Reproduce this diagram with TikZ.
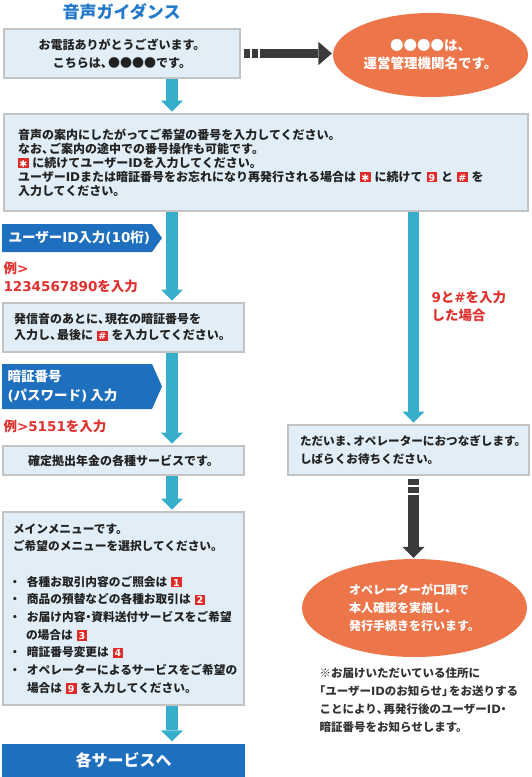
\documentclass[tikz,border=0pt]{standalone}
\usepackage{fontspec}
\setmainfont{Noto Sans CJK JP}
\newfontfamily\latfont{DejaVu Sans}
\usetikzlibrary{arrows.meta,shapes.geometric,calc}
\definecolor{bgblue}{HTML}{E1EEF8}
\definecolor{bordergray}{HTML}{C3C3C3}
\definecolor{arrowblue}{HTML}{36AECC}
\definecolor{navyblue}{HTML}{1F6FBF}
\definecolor{ornge}{HTML}{EC7549}
\definecolor{dk}{HTML}{3A3A3A}
\definecolor{redtxt}{HTML}{E0312F}
\definecolor{bred}{HTML}{E02B2B}
\definecolor{titleblue}{HTML}{2479C9}
\definecolor{txt}{HTML}{222222}
\definecolor{txtb}{HTML}{333333}
\newcommand\lat[1]{{\latfont #1}}
\newcommand\fs[2]{\fontsize{#1}{#2}\selectfont}
\newcommand\tou{\makebox[0.6em][l]{、}}
\newcommand\nak{\makebox[0.5em][c]{・}}
\newcommand\kL{\makebox[0.5em][r]{「}}
\newcommand\kR{\makebox[0.6em][l]{」}}
\newcommand\bdg[1]{{\setlength\fboxsep{0pt}\colorbox{bred}{\makebox[10.5pt]{\rule[-1.3pt]{0pt}{10.5pt}\color{white}\fs{9.5}{9.5}\lat{#1}}}}}
\begin{document}
\begin{tikzpicture}[x=1pt,y=-1pt,
  panel/.style={draw=bordergray, line width=2.4pt, fill=bgblue, inner ysep=0pt, outer sep=0pt, text=txt},
  flow/.style={draw=arrowblue, line width=11.5pt, -{Triangle[width=22pt,length=11pt,line width=0pt]}, shorten <=1.2pt, shorten >=2.5pt},
  darkarr/.style={draw=dk, dash pattern=on 6pt off 2pt on 6pt off 2.5pt on 600pt off 0pt},
  oval/.style={ellipse, fill=ornge, inner sep=0pt, text=white},
  banner/.style={fill=navyblue}
]
\useasboundingbox (0,0) rectangle (531,777);
\coordinate (ax) at (172,0);
\coordinate (bx) at (413.5,0);

\node[font=\bfseries\fs{17}{17}, text=titleblue] (title) at (121.5,12) {音声ガイダンス};

\node[panel, minimum width=235.6pt, minimum height=48.6pt, align=center, font=\bfseries\fs{12}{18}] (b1) at (122,53.5)
  {お電話ありがとうございます。\\こちらは\tou ●●●●です。};

\node[oval, minimum width=195pt, minimum height=84pt, align=center, font=\bfseries\fs{13.5}{18}] (e1) at (430.5,55)
  {●●●●は、\\運営管理機関名です。};

\node[panel, minimum width=523.6pt, minimum height=96.6pt, text width=496pt, inner xsep=13.8pt, align=left, font=\bfseries\fs{12}{14}] (b2) at (266,162.5)
  {音声の案内にしたがってご希望の番号を入力してください。\\
   なお\tou ご案内の途中での番号操作も可能です。\\
   \bdg{\mdseries ✱}~に続けてユーザー\lat{ID}を入力してください。\\
   ユーザー\lat{ID}または暗証番号をお忘れになり再発行される場合は~\bdg{\mdseries ✱}~に続けて~\bdg{9}~と~\bdg{\#}~を\\
   入力してください。};

\fill[banner] (2,224) -- (152,224) -- (162,238) -- (152,252) -- (2,252) -- cycle;
\node[anchor=west, text=white, font=\bfseries\fs{13.5}{13.5}] (t1) at (5,238) {ユーザー\lat{ID}入力\lat{(10}桁\lat{)}};

\node[anchor=west, align=left, text=redtxt, font=\bfseries\fs{13.5}{18}] (r1) at (0,277) {例\lat{>}\\\lat{1234567890}を入力};

\node[panel, minimum width=240.6pt, minimum height=48.6pt, text width=219pt, inner xsep=10.8pt, align=left, font=\bfseries\fs{12}{16}] (b3) at (123.5,327.5)
  {発信音のあとに\tou 現在の暗証番号を\\入力し\tou 最後に~\bdg{\#}~を入力してください。};

\fill[banner] (2,364) -- (152,364) -- (162,386.5) -- (152,409) -- (2,409) -- cycle;
\node[anchor=west, align=left, text=white, font=\bfseries\fs{13.5}{19}] (t2) at (4,386.5) {暗証番号\\\lat{(}パスワード\lat{)} 入力};

\node[anchor=west, text=redtxt, font=\bfseries\fs{13.5}{13.5}] (r2) at (0,426) {例\lat{>5151}を入力};

\node[panel, minimum width=240.6pt, minimum height=28.6pt, align=center, font=\bfseries\fs{12}{14}] (b4) at (123.5,460.5)
  {確定拠出年金の各種サービスです。};

\node[panel, minimum width=240.6pt, minimum height=192.6pt, text width=221pt, inner xsep=9.8pt, align=left, font=\bfseries\fs{11.7}{17.7}] (b5) at (123.5,608.5)
  {メインメニューです。\\
   ご希望のメニューを選択してください。\\
   \mbox{}\\
   \makebox[14pt][l]{\hspace{-4pt}・}各種お取引内容のご照会は~\bdg{1}\\
   \makebox[14pt][l]{\hspace{-4pt}・}商品の預替などの各種お取引は~\bdg{2}\\
   \makebox[14pt][l]{\hspace{-4pt}・}お届け内容\nak 資料送付サービスをご希望\\
   \hspace*{13pt}の場合は~\bdg{3}\\
   \makebox[14pt][l]{\hspace{-4pt}・}暗証番号変更は~\bdg{4}\\
   \makebox[14pt][l]{\hspace{-4pt}・}オペレーターによるサービスをご希望の\\
   \hspace*{14pt}場合は~\bdg{9}~を入力してください。};

\node[fill=navyblue, minimum width=243pt, minimum height=33pt, inner sep=0pt, text=white, font=\bfseries\fs{16}{16}] (b7) at (123.5,760.5) {各サービスへ};

\node[anchor=west, align=left, text=redtxt, font=\bfseries\fs{13.5}{17.5}] (r3) at (428,306.5) {\lat{9}と\lat{\#}を入力\\した場合};

\node[panel, minimum width=240.6pt, minimum height=49.6pt, text width=217pt, inner xsep=11.8pt, align=left, font=\bfseries\fs{11.6}{18}] (b6) at (408.5,450)
  {ただいま\tou オペレーターにおつなぎします。\\しばらくお待ちください。};

\node[oval, minimum width=225pt, minimum height=98pt, align=left, font=\bfseries\fs{12}{18}] (e2) at (414.5,608)
  {オペレーターが口頭で\\本人確認を実施し、\\発行手続きを行います。};

\node[anchor=west, align=left, text=txtb, font=\bfseries\fs{11.5}{18}] (fn) at (316,700)
  {※お届けいただいている住所に\\\kL ユーザー\lat{ID}のお知らせ\kR をお送りする\\ことにより\tou 再発行後のユーザー\lat{ID}\nak\\暗証番号をお知らせします。};

% blue flow arrows
\draw[flow] (b1.south -| ax) -- (b2.north -| ax);
\draw[flow] (b2.south -| ax) -- (b3.north -| ax);
\draw[flow] (b3.south -| ax) -- (b4.north -| ax);
\draw[flow] (b4.south -| ax) -- (b5.north -| ax);
\draw[flow] (b5.south -| ax) -- (b7.north -| ax);
\draw[flow] (b2.south -| bx) -- (b6.north -| bx);

% dark arrows
\draw[darkarr, line width=9pt, -{Triangle[width=23.4pt,length=13.4pt,line width=0pt]}, shorten <=4pt, shorten >=1pt]
  (b1.east) -- (b1.east -| e1.west);
\draw[darkarr, line width=11pt, -{Triangle[width=22pt,length=11pt,line width=0pt]}, shorten <=4pt, shorten >=1pt]
  (b6.south -| bx) -- (e2.north -| bx);
\end{tikzpicture}
\end{document}
